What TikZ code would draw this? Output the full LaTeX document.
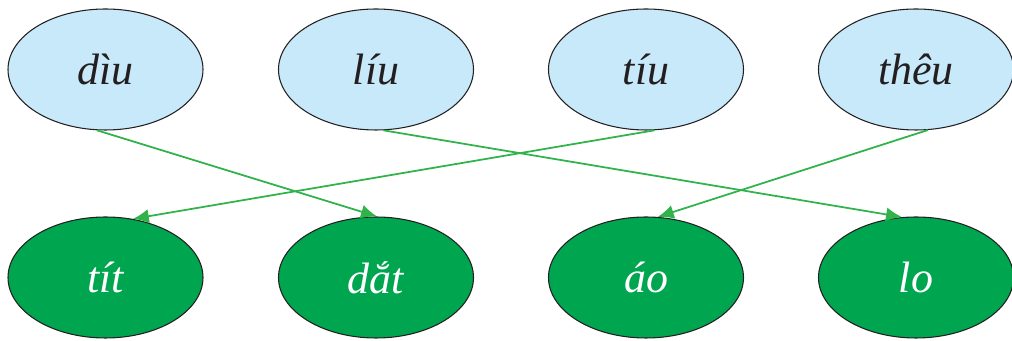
\documentclass[tikz,border=0pt]{standalone}
\usepackage{fontspec}
\setmainfont{Liberation Serif}
\usepackage{tikz}
\usetikzlibrary{shapes.geometric,arrows.meta}

\definecolor{paleblue}{HTML}{C7E9F9}
\definecolor{darkgreen}{HTML}{00A54F}
\definecolor{linegreen}{HTML}{2FB34A}
\definecolor{inkblack}{HTML}{231F20}

\begin{document}
\begin{tikzpicture}[
  word/.style={ellipse, draw=inkblack, line width=0.6pt, inner sep=0pt,
    minimum width=3.9cm, minimum height=2.42cm, font=\fontsize{25}{25}\selectfont\itshape},
  upper/.style={word, fill=paleblue, text=inkblack},
  lower/.style={word, fill=darkgreen, text=white},
  link/.style={linegreen, line width=1pt, -{Latex[length=3.2mm,width=2.8mm]}}
]
\useasboundingbox (0,0) rectangle (20.24,6.82);
% top row
\node [upper] (diu) at (2.11,5.43) {dìu};
\node [upper] (liu) at (7.52,5.43) {líu};
\node [upper] (tiu) at (12.92,5.43) {tíu};
\node [upper] (theu) at (18.32,5.43) {thêu};
% bottom row
\node [lower] (tit) at (2.11,1.27) {tít};
\node [lower] (dat) at (7.52,1.27) {dắt};
\node [lower] (ao) at (12.92,1.27) {áo};
\node [lower] (lo) at (18.32,1.27) {lo};
% links
\draw [link] (diu.262) -- (dat.89);
\draw [link] (liu.277) -- (lo.103);
\draw [link] (tiu.278) -- (tit.65);
\draw [link] (theu.281) -- (ao.79);
\end{tikzpicture}
\end{document}
